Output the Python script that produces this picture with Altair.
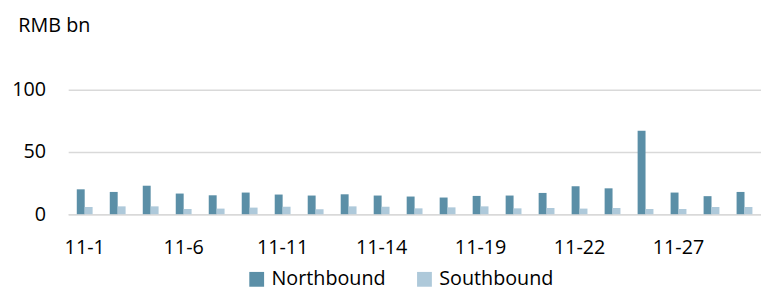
import altair as alt
import pandas as pd

dates = ["11-1", "11-4", "11-5", "11-6", "11-7", "11-8", "11-11", "11-12", "11-13",
         "11-14", "11-15", "11-18", "11-19", "11-20", "11-21", "11-22", "11-25",
         "11-26", "11-27", "11-28", "11-29"]
northbound = [20.0, 17.9, 22.9, 16.6, 15.2, 17.4, 15.8, 15.0, 16.0, 15.0, 14.2,
              13.4, 14.7, 15.0, 17.1, 22.4, 20.8, 67.1, 17.4, 14.5, 17.9]
southbound = [5.8, 6.3, 6.3, 4.2, 4.5, 5.3, 6.0, 3.9, 6.3, 6.0, 4.7,
              5.5, 6.3, 4.7, 5.0, 4.5, 5.0, 4.2, 4.2, 5.8, 5.8]
series = ["Northbound", "Southbound"]
colors = ["#5b8fa7", "#aec9da"]
x_tick_labels = ["11-1", "11-6", "11-11", "11-14", "11-19", "11-22", "11-27"]
y_ticks = [0, 50, 100]

rows = []
for d, n, s in zip(dates, northbound, southbound):
    rows.append({"date": d, "series": series[0], "value": n})
    rows.append({"date": d, "series": series[1], "value": s})
df = pd.DataFrame(rows)

FONT = "Open Sans"

chart = alt.Chart(df).mark_bar().encode(
    x=alt.X("date:N", sort=dates,
            scale=alt.Scale(paddingInner=0.52, paddingOuter=0.26),
            axis=alt.Axis(values=x_tick_labels, title=None, labelAngle=0,
                          ticks=False, tickSize=0, labelPadding=24,
                          labelFont=FONT, labelFontSize=20, labelColor="#000000",
                          domainColor="#d9d9d9", domainWidth=1.5, grid=False)),
    xOffset=alt.XOffset("series:N", sort=series, scale=alt.Scale(paddingInner=0, paddingOuter=0)),
    y=alt.Y("value:Q", scale=alt.Scale(domain=[0, 100], nice=False),
            axis=alt.Axis(values=y_ticks, title="RMB bn", titleAngle=0,
                          titleX=-51, titleY=-59, titleAlign="left",
                          titleBaseline="alphabetic", titleFont=FONT,
                          titleFontSize=20, titleFontWeight="normal",
                          titleColor="#000000",
                          ticks=False, tickSize=0, labelPadding=23,
                          labelFont=FONT, labelFontSize=20, labelColor="#000000",
                          domain=False, gridColor="#d9d9d9", gridWidth=1.5)),
    color=alt.Color("series:N", sort=series,
                    scale=alt.Scale(domain=series, range=colors),
                    legend=alt.Legend(title=None, orient="none", direction="horizontal",
                                      legendX=181, legendY=182, padding=0,
                                      symbolType="square", symbolSize=225,
                                      symbolStrokeWidth=0, labelOffset=5,
                                      columnPadding=29, labelFont=FONT,
                                      labelFontSize=20, labelColor="#000000")),
).properties(
    width=702, height=126,
    padding={"left": 61, "top": 81, "right": 0, "bottom": 84},
    autosize=alt.AutoSizeParams(type="none"),
).configure_view(stroke=None)

chart.save("out.html", embed_options={"renderer": "svg", "actions": False})
